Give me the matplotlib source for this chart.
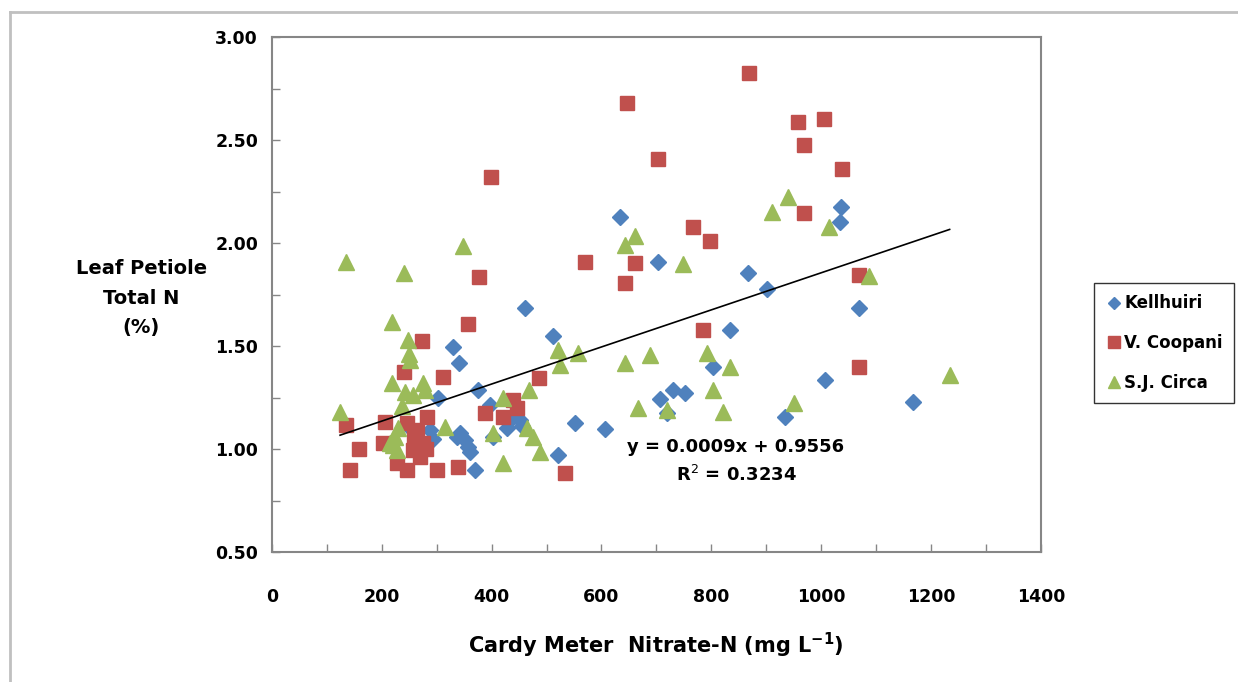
import matplotlib
matplotlib.use("Agg")
import matplotlib.pyplot as plt
from matplotlib.lines import Line2D
import numpy as np

plt.rcParams['font.family'] = ['Liberation Sans Narrow', 'DejaVu Sans']

# Kellhuiri (blue diamonds)
kel_x = [248, 288, 293, 302, 330, 337, 341, 342, 351, 357, 360, 370, 375, 397, 402,
         428, 439, 451, 455, 461, 512, 521, 552, 606, 633, 703, 706, 719, 730, 752,
         803, 834, 867, 901, 934, 1007, 1034, 1036, 1069, 1167]
kel_y = [1.11, 1.09, 1.05, 1.25, 1.495, 1.058, 1.417, 1.077, 1.044, 1.01, 0.985, 0.90, 1.286, 1.214, 1.058,
         1.10, 1.155, 1.14, 1.11, 1.685, 1.55, 0.97, 1.126, 1.097, 2.126, 1.91, 1.243, 1.175, 1.286, 1.27,
         1.40, 1.58, 1.855, 1.777, 1.155, 1.335, 2.10, 2.175, 1.685, 1.228]

# V. Coopani (red squares)
coo_x = [135, 142, 159, 202, 206, 228, 240, 246, 246, 257, 258, 264, 269, 273, 275, 280,
         282, 300, 311, 339, 357, 377, 388, 398, 421, 439, 446, 486, 533, 570, 643,
         646, 661, 703, 767, 785, 797, 868, 958, 969, 969, 1005, 1038, 1069, 1069]
coo_y = [1.117, 0.90, 1.0, 1.03, 1.13, 0.93, 1.374, 0.90, 1.126, 0.995, 1.06, 1.09, 0.96, 1.525, 1.03, 1.0,
         1.155, 0.90, 1.35, 0.913, 1.607, 1.835, 1.175, 2.32, 1.155, 1.238, 1.2, 1.345, 0.883, 1.91, 1.806,
         2.68, 1.905, 2.41, 2.08, 1.578, 2.01, 2.825, 2.587, 2.476, 2.146, 2.60, 2.36, 1.845, 1.40]

# S.J. Circa (green triangles)
sjc_x = [124, 135, 215, 218, 218, 220, 224, 227, 229, 236, 240, 242, 248, 250, 252, 257,
         275, 279, 315, 348, 403, 421, 421, 464, 468, 475, 488, 521, 524, 557, 643,
         643, 661, 666, 688, 719, 748, 792, 803, 821, 834, 910, 939, 950, 1014, 1087, 1234]
sjc_y = [1.18, 1.908, 1.03, 1.32, 1.617, 1.02, 1.06, 0.995, 1.10, 1.21, 1.854, 1.277, 1.53, 1.46, 1.43, 1.262,
         1.32, 1.286, 1.107, 1.985, 1.08, 1.25, 0.93, 1.10, 1.286, 1.058, 0.985, 1.48, 1.41, 1.466, 1.99,
         1.418, 2.034, 1.20, 1.456, 1.19, 1.90, 1.466, 1.286, 1.18, 1.40, 2.15, 2.223, 1.223, 2.08, 1.84, 1.36]

slope, intercept = 0.0009, 0.9556
eq_text = "y = 0.0009x + 0.9556\nR$^2$ = 0.3234"

fig = plt.figure(figsize=(12.38, 6.82), dpi=100)
ax = fig.add_axes([0.2197, 0.1906, 0.621, 0.755])

ax.plot(kel_x, kel_y, ls='none', marker='D', ms=8, color='#4F81BD', label='Kellhuiri')
ax.plot(coo_x, coo_y, ls='none', marker='s', ms=10, color='#C0504D', label='V. Coopani')
ax.plot(sjc_x, sjc_y, ls='none', marker='^', ms=11, color='#9BBB59', label='S.J. Circa')

# trend line over the pooled x range
all_x = np.array(kel_x + coo_x + sjc_x)
tx = np.array([all_x.min(), all_x.max()])
ax.plot(tx, slope * tx + intercept, color='black', lw=1.2)

ax.set_xlim(0, 1400)
ax.set_ylim(0.5, 3.0)
ax.set_xticks(np.arange(0, 1401, 200))
ax.set_xticks(np.arange(0, 1401, 100), minor=True)
ax.set_yticks(np.arange(0.5, 3.01, 0.5))
ax.set_yticks(np.arange(0.5, 3.01, 0.25), minor=True)
ax.set_yticklabels([f"{v:.2f}" for v in np.arange(0.5, 3.01, 0.5)])
ax.tick_params(which='both', direction='in', length=6, color='#868686', width=1)
ax.tick_params(labelsize=12.5, pad=10)
ax.tick_params(axis='x', pad=26)
for lab in ax.get_xticklabels() + ax.get_yticklabels():
    lab.set_fontweight('bold')
for sp in ax.spines.values():
    sp.set_color('#868686')
    sp.set_linewidth(1.5)

ax.text(845, 0.94, eq_text, ha='center', va='center', fontsize=13, fontweight='bold',
        linespacing=1.6)

fig.text(0.114, 0.563, "Leaf Petiole\nTotal N\n(%)", ha='center', va='center',
         fontsize=14, fontweight='bold', linespacing=1.7)
fig.text(0.53, 0.053, "Cardy Meter  Nitrate-N (mg L$^{\\mathbf{-1}}$)", ha='center', va='center',
         fontsize=15, fontweight='bold')

leg = fig.legend(loc='center left', bbox_to_anchor=(0.877, 0.497), frameon=True,
                 fancybox=False, edgecolor='black', handletextpad=0.1, handlelength=1.0,
                 borderpad=0.7, labelspacing=1.3, markerscale=0.8,
                 prop={'weight': 'bold', 'size': 12})
leg.get_frame().set_linewidth(1.0)

# outer chart border (top and left edges visible)
fig.add_artist(Line2D([10 / 1238, 1.0], [1 - 12 / 682, 1 - 12 / 682], color='#C0C0C0', lw=2))
fig.add_artist(Line2D([10 / 1238, 10 / 1238], [0.0, 1 - 12 / 682], color='#C0C0C0', lw=2))

fig.savefig("out.png", dpi=100)
